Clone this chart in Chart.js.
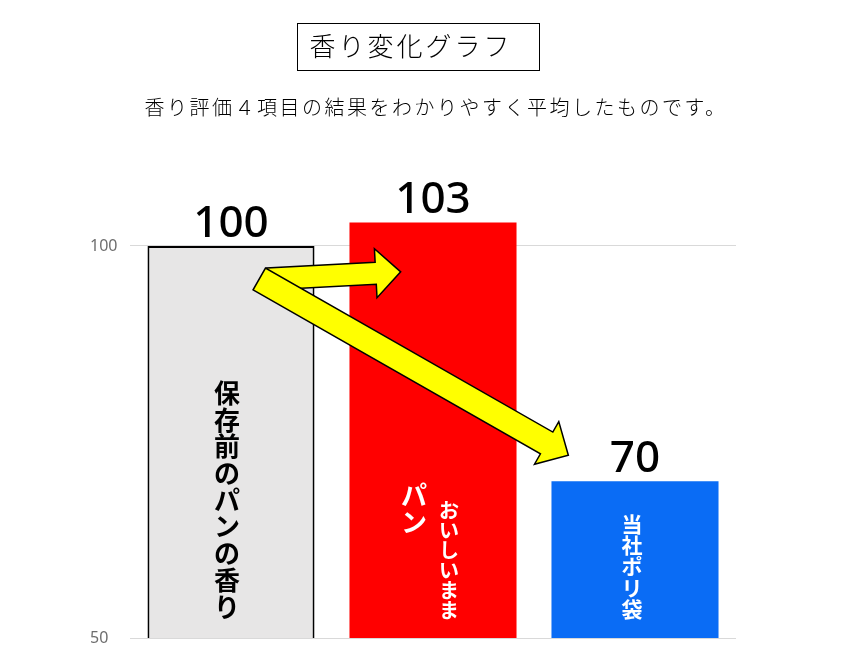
<!DOCTYPE html>
<html>
<head>
<meta charset="utf-8">
<script src="https://cdn.jsdelivr.net/npm/chart.js@4.4.1/dist/chart.umd.min.js"></script>
<style>
  html, body { margin: 0; padding: 0; background: #fff; }
  #wrap { width: 863px; height: 663px; }
</style>
</head>
<body>
<div id="wrap"><canvas id="chart"></canvas></div>
<script>
// chart data
const categories = ['保存前のパンの香り', 'おいしいままパン', '当社ポリ袋'];
const scores = [100, 103, 70];
const barColors = ['#e7e6e6', '#ff0000', '#0a6cf5'];
const yTicks = [50, 100];
const titleText = '香り変化グラフ';
const subtitleText = '香り評価４項目の結果をわかりやすく平均したものです。';

// yellow arrows, in data units: [category index, value]
const arrowFrom = [[0.18, 95.8], [0.14, 95.8]];
const arrowTo = [[0.84, 96.7], [1.67, 73.3]];

// vertical writing inside the bars (one entry per column)
const barColumns = [
  [{ text: '保存前のパンの香り', dx: -4, bottom: 18, size: 26, pitch: 26.7, color: '#000' }],
  [{ text: 'おいしいまま', dx: 16, bottom: 18, size: 20, pitch: 20, color: '#fff' },
   { text: 'パン', dx: -19, bottom: 103, size: 26, pitch: 26.5, color: '#fff' }],
  [{ text: '当社ポリ袋', dx: -3, bottom: 18, size: 21, pitch: 21.4, color: '#fff' }]
];

const cjk = "'Noto Sans CJK JP', 'Noto Sans', sans-serif";

Chart.defaults.font.family = "'Noto Sans', sans-serif";
Chart.defaults.font.size = 16;

const header = {
  id: 'header',
  afterDraw(chart) {
    const ctx = chart.ctx;
    const cx = chart.width / 2;
    ctx.save();
    // title in a box
    ctx.strokeStyle = '#000';
    ctx.lineWidth = 1;
    ctx.strokeRect(cx - 134, 23.5, 242, 47);
    ctx.fillStyle = '#000';
    ctx.font = '300 26px ' + cjk;
    ctx.letterSpacing = '3px';
    ctx.textAlign = 'left';
    ctx.textBaseline = 'middle';
    ctx.fillText(titleText, cx - 122, 46);
    // subtitle
    ctx.font = '300 20px ' + cjk;
    ctx.letterSpacing = '2.5px';
    ctx.fillText(subtitleText, cx - 287, 107);
    ctx.restore();
  }
};

function drawArrow(ctx, s, t, w, hw, hl) {
  const dx = t.x - s.x, dy = t.y - s.y;
  const len = Math.hypot(dx, dy);
  const ux = dx / len, uy = dy / len;
  const nx = -uy, ny = ux;
  const bx = t.x - ux * hl, by = t.y - uy * hl;
  ctx.beginPath();
  ctx.moveTo(s.x + nx * w / 2, s.y + ny * w / 2);
  ctx.lineTo(bx + nx * w / 2, by + ny * w / 2);
  ctx.lineTo(bx + nx * hw / 2, by + ny * hw / 2);
  ctx.lineTo(t.x, t.y);
  ctx.lineTo(bx - nx * hw / 2, by - ny * hw / 2);
  ctx.lineTo(bx - nx * w / 2, by - ny * w / 2);
  ctx.lineTo(s.x - nx * w / 2, s.y - ny * w / 2);
  ctx.closePath();
  ctx.fill();
  ctx.stroke();
}

const barDecor = {
  id: 'barDecor',
  afterDatasetsDraw(chart) {
    const ctx = chart.ctx;
    const xs = chart.scales.x, ys = chart.scales.y;
    const base = ys.getPixelForValue(ys.min);
    ctx.save();
    // text written vertically inside bars
    ctx.textAlign = 'center';
    ctx.textBaseline = 'middle';
    categories.forEach((c, i) => {
      const bx = xs.getPixelForValue(i);
      barColumns[i].forEach(col => {
        const chars = Array.from(col.text);
        ctx.font = 'bold ' + col.size + 'px ' + cjk;
        ctx.fillStyle = col.color;
        chars.forEach((ch, k) => {
          const y = base - col.bottom - (chars.length - k - 0.5) * col.pitch;
          ctx.fillText(ch, bx + col.dx, y);
        });
      });
    });
    // value labels
    ctx.font = "500 44px 'Noto Sans', sans-serif";
    ctx.fillStyle = '#000';
    ctx.textBaseline = 'alphabetic';
    scores.forEach((v, i) => {
      ctx.fillText(String(v), xs.getPixelForValue(i), ys.getPixelForValue(v) - 9);
    });
    // arrows
    ctx.fillStyle = '#ffff00';
    ctx.strokeStyle = '#000';
    ctx.lineWidth = 1.5;
    ctx.lineJoin = 'miter';
    const widths = [22, 25];
    arrowFrom.forEach((f, i) => {
      const s = { x: xs.getPixelForValue(f[0]), y: ys.getPixelForValue(f[1]) };
      const t = { x: xs.getPixelForValue(arrowTo[i][0]), y: ys.getPixelForValue(arrowTo[i][1]) };
      drawArrow(ctx, s, t, widths[i], 49, 25);
    });
    ctx.restore();
  }
};

new Chart(document.getElementById('chart'), {
  type: 'bar',
  data: {
    labels: categories,
    datasets: [{
      data: scores,
      backgroundColor: barColors,
      borderColor: ['#000', 'rgba(0,0,0,0)', 'rgba(0,0,0,0)'],
      borderWidth: [2, 0, 0],
      borderSkipped: false,
      barPercentage: 0.827,
      categoryPercentage: 1
    }]
  },
  options: {
    responsive: true,
    maintainAspectRatio: false,
    animation: false,
    layout: { padding: { top: 167.6, right: 127, bottom: 25, left: 90 } },
    plugins: {
      legend: { display: false },
      tooltip: { enabled: false }
    },
    scales: {
      x: { display: false },
      y: {
        min: 50,
        max: 110,
        afterBuildTicks: scale => { scale.ticks = yTicks.map(v => ({ value: v })); },
        afterFit: scale => { scale.width = 40; },
        border: { display: false },
        grid: { color: '#d9d9d9', drawTicks: false, lineWidth: 1 },
        ticks: { color: '#6e6e6e', padding: 15, crossAlign: 'far', font: { size: 16 } }
      }
    }
  },
  plugins: [barDecor, header]
});
</script>
</body>
</html>
